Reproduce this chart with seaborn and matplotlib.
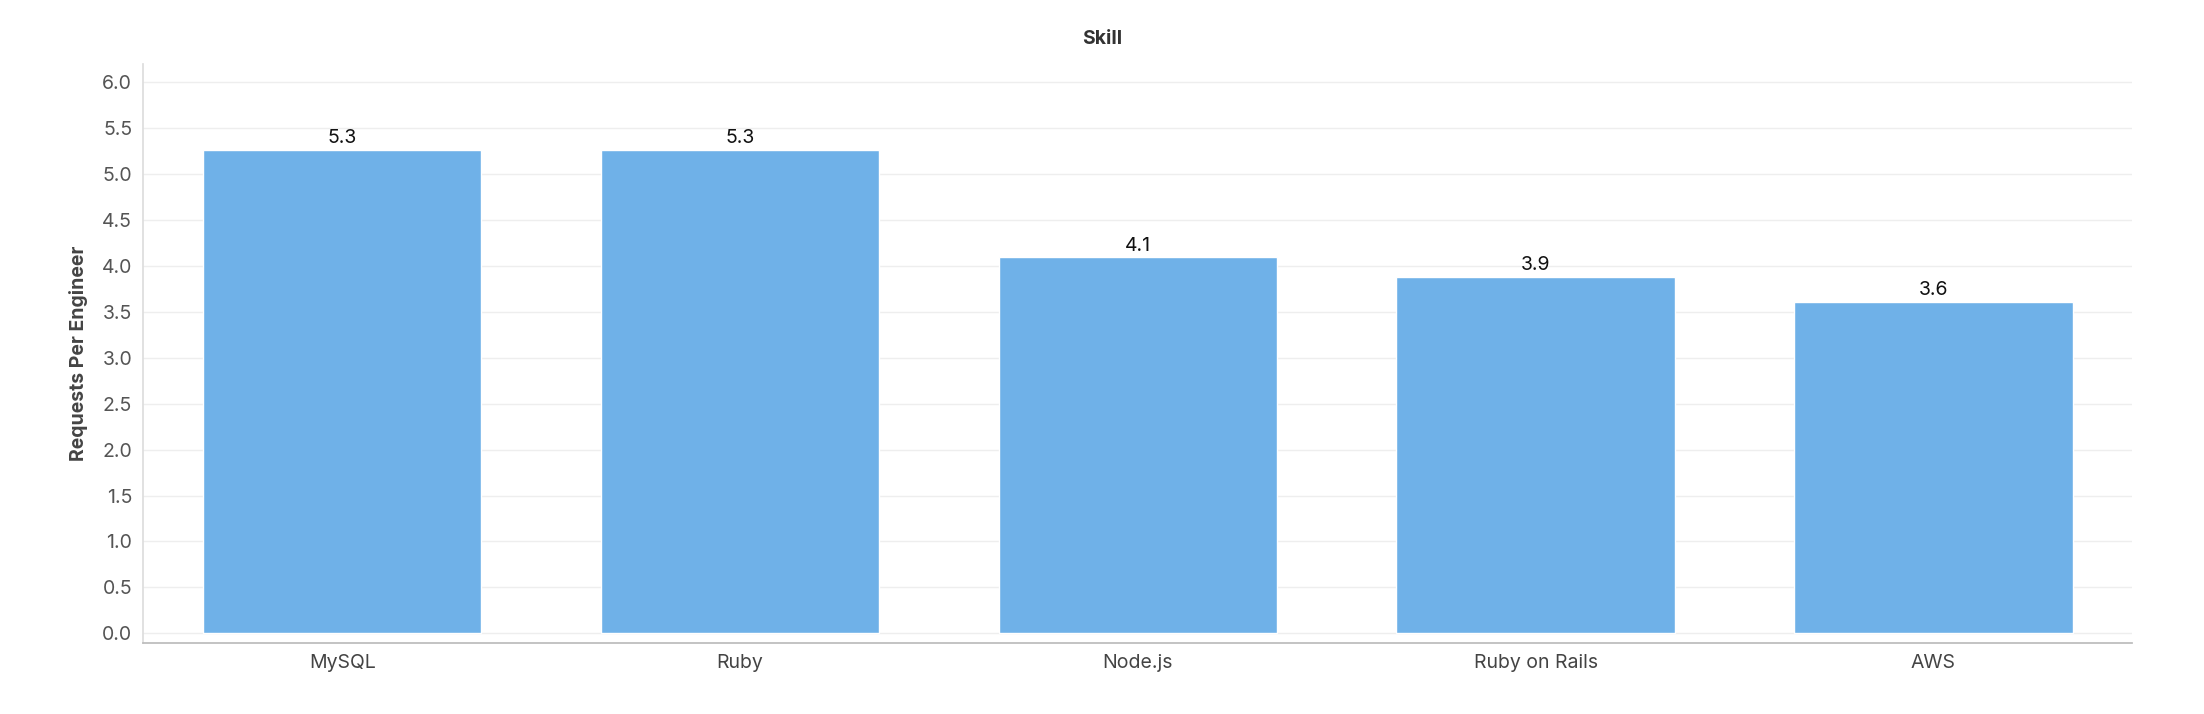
import matplotlib
matplotlib.use("Agg")
import matplotlib.pyplot as plt
import seaborn as sns
import pandas as pd

skills = ["MySQL", "Ruby", "Node.js", "Ruby on Rails", "AWS"]
values = [5.26, 5.26, 4.09, 3.88, 3.61]
labels = ["5.3", "5.3", "4.1", "3.9", "3.6"]
yticks = [0.0, 0.5, 1.0, 1.5, 2.0, 2.5, 3.0, 3.5, 4.0, 4.5, 5.0, 5.5, 6.0]

sns.set_theme(style="white")
plt.rcParams['font.family'] = ['Inter', 'DejaVu Sans']

df = pd.DataFrame({"Skill": skills, "Value": values})
fig = plt.figure(figsize=(22.04, 7.14), dpi=100)
ax = fig.add_axes([0.065, 0.100, 0.9025, 0.811])
sns.barplot(data=df, x="Skill", y="Value", color="#6fb1e8", saturation=1, width=0.7, ax=ax, zorder=3)
for p, t in zip(ax.patches, labels):
    ax.text(p.get_x() + p.get_width() / 2, p.get_height() + 0.03, t, ha="center", va="bottom", fontsize=14, color="#111111")
ax.set_ylim(-0.1, 6.2)
ax.set_yticks(yticks)
ax.set_yticklabels([f"{v:.1f}" for v in yticks], fontsize=14, color="#555555")
ax.tick_params(axis="x", labelsize=14, labelcolor="#444444", length=0, pad=8)
ax.tick_params(axis="y", length=0, pad=8)
ax.yaxis.grid(True, color="#eeeeee", linewidth=1, zorder=0)
ax.set_xlabel("")
ax.set_ylabel("Requests Per Engineer", fontsize=14, fontweight="bold", color="#444444", labelpad=10)
for s in ["top", "right"]:
    ax.spines[s].set_visible(False)
ax.spines["left"].set_color("#dddddd")
ax.spines["bottom"].set_color("#bbbbbb")
fig.text(0.5, 0.945, "Skill", ha="center", va="center", fontsize=14, fontweight="bold", color="#333333")
fig.savefig("out.png", dpi=100)
